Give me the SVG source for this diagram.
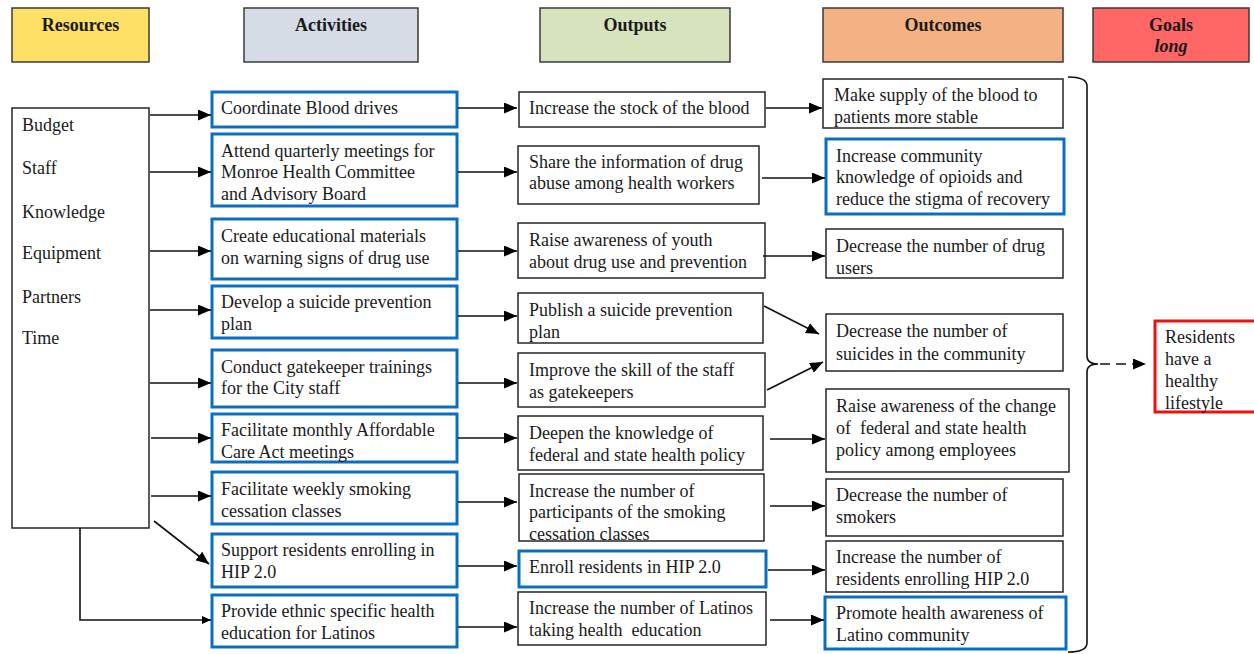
<svg xmlns="http://www.w3.org/2000/svg" width="1254" height="654" viewBox="0 0 1254 654">
  <style>
    text { font-family: "Liberation Serif", "Times New Roman", serif; font-size: 18px; fill: #1a1a1a; }
    .hd { font-weight: bold; text-anchor: middle; }
    .pre { white-space: pre; }
    .hdbox { stroke: #3a3a3a; stroke-width: 1.5; }
    .box { fill: #ffffff; stroke: #262626; stroke-width: 1.5; }
    .frame { fill: none; stroke: #262626; stroke-width: 1.5; }
    .blue { fill: #ffffff; stroke: #0a6fc2; stroke-width: 3; }
    .goal { fill: #ffffff; stroke: #f01010; stroke-width: 3; }
    .cn { fill: none; stroke: #111111; stroke-width: 1.6; }
  </style>
  <defs>
    <marker id="arr" markerUnits="userSpaceOnUse" markerWidth="13" markerHeight="11" refX="13" refY="5.5" orient="auto">
      <path d="M0,0 L13,5.5 L0,11 z" fill="#000"/>
    </marker>
    <marker id="arrSmall" markerUnits="userSpaceOnUse" markerWidth="9" markerHeight="8" refX="9" refY="4" orient="auto">
      <path d="M0,0 L9,4 L0,8 z" fill="#000"/>
    </marker>
  </defs>
  <rect width="1254" height="654" fill="#ffffff"/>

  <!-- column headers -->
  <g id="hdr-resources"><rect class="hdbox" x="12" y="8" width="137" height="54" fill="#ffe066"/><text class="hd" x="80.5" y="31">Resources</text></g>
  <g id="hdr-activities"><rect class="hdbox" x="244" y="8" width="174" height="54" fill="#d6dce5"/><text class="hd" x="331" y="31">Activities</text></g>
  <g id="hdr-outputs"><rect class="hdbox" x="540" y="8" width="190" height="54" fill="#d7e3bd"/><text class="hd" x="635" y="31">Outputs</text></g>
  <g id="hdr-outcomes"><rect class="hdbox" x="823" y="8" width="240" height="54" fill="#f4b183"/><text class="hd" x="943" y="31">Outcomes</text></g>
  <g id="hdr-goals"><rect class="hdbox" x="1093" y="8" width="156" height="54" fill="#ff6666"/><text class="hd" x="1171" y="31">Goals</text><text class="hd" x="1171" y="52" font-style="italic">long</text></g>

  <!-- resources -->
  <g id="resources">
    <rect class="box" x="12" y="108" width="137" height="420"/>
    <text x="22" y="131">Budget</text>
    <text x="22" y="174">Staff</text>
    <text x="22" y="218">Knowledge</text>
    <text x="22" y="259">Equipment</text>
    <text x="22" y="303">Partners</text>
    <text x="22" y="344">Time</text>
  </g>

  <!-- activities -->
  <g id="act-1"><rect class="blue" x="212" y="92" width="245" height="35"/><text x="221" y="114">Coordinate Blood drives</text></g>
  <g id="act-2"><rect class="blue" x="212" y="134" width="245" height="72"/><text x="221" y="157">Attend quarterly meetings for</text><text x="221" y="178">Monroe Health Committee</text><text x="221" y="200">and Advisory Board</text></g>
  <g id="act-3"><rect class="blue" x="212" y="219" width="245" height="60"/><text x="221" y="242">Create educational materials</text><text x="221" y="264">on warning signs of drug use</text></g>
  <g id="act-4"><rect class="blue" x="212" y="286" width="245" height="52"/><text x="221" y="308">Develop a suicide prevention</text><text x="221" y="330">plan</text></g>
  <g id="act-5"><rect class="blue" x="212" y="350" width="245" height="57"/><text x="221" y="373">Conduct gatekeeper trainings</text><text x="221" y="394">for the City staff</text></g>
  <g id="act-6"><rect class="blue" x="212" y="414" width="245" height="48"/><text x="221" y="436">Facilitate monthly Affordable</text><text x="221" y="458">Care Act meetings</text></g>
  <g id="act-7"><rect class="blue" x="212" y="472" width="245" height="52"/><text x="221" y="495">Facilitate weekly smoking</text><text x="221" y="517">cessation classes</text></g>
  <g id="act-8"><rect class="blue" x="212" y="534" width="245" height="53"/><text x="221" y="556">Support residents enrolling in</text><text x="221" y="578">HIP 2.0</text></g>
  <g id="act-9"><rect class="blue" x="212" y="595" width="245" height="52"/><text x="221" y="617">Provide ethnic specific health</text><text x="221" y="639">education for Latinos</text></g>

  <!-- outputs -->
  <g id="out-1"><rect class="box" x="519" y="92" width="246" height="35"/><text x="529" y="114">Increase the stock of the blood</text></g>
  <g id="out-2"><rect class="box" x="518" y="146" width="241" height="58"/><text x="529" y="168">Share the information of drug</text><text x="529" y="189">abuse among health workers</text></g>
  <g id="out-3"><rect class="box" x="518" y="223" width="247" height="55"/><text x="529" y="246">Raise awareness of youth</text><text x="529" y="268">about drug use and prevention</text></g>
  <g id="out-4"><rect class="box" x="518" y="293" width="245" height="50"/><text x="529" y="316">Publish a suicide prevention</text><text x="529" y="338">plan</text></g>
  <g id="out-5"><rect class="box" x="518" y="353" width="247" height="54"/><text x="529" y="376">Improve the skill of the staff</text><text x="529" y="398">as gatekeepers</text></g>
  <g id="out-6"><rect class="box" x="518" y="416" width="245" height="54"/><text x="529" y="439">Deepen the knowledge of</text><text x="529" y="461">federal and state health policy</text></g>
  <!-- the last line runs onto the lower border, so the frame is drawn over the text -->
  <g id="out-7"><rect x="519" y="474" width="245" height="67" fill="#ffffff"/><text x="529" y="497">Increase the number of</text><text x="529" y="518">participants of the smoking</text><text x="529" y="540">cessation classes</text><rect class="frame" x="519" y="474" width="245" height="67"/></g>
  <g id="out-8"><rect class="blue" x="519" y="551" width="247" height="36"/><text x="529" y="573">Enroll residents in HIP 2.0</text></g>
  <g id="out-9"><rect class="box" x="518" y="592" width="248" height="53"/><text x="529" y="614">Increase the number of Latinos</text><text class="pre" x="529" y="636">taking health  education</text></g>

  <!-- outcomes -->
  <g id="oc-1"><rect class="box" x="823" y="79" width="240" height="49"/><text x="834" y="101">Make supply of the blood to</text><text x="834" y="123">patients more stable</text></g>
  <g id="oc-2"><rect class="blue" x="826" y="139" width="238" height="75"/><text x="836" y="162">Increase community</text><text x="836" y="183">knowledge of opioids and</text><text x="836" y="205">reduce the stigma of recovery</text></g>
  <g id="oc-3"><rect class="box" x="826" y="229" width="237" height="49"/><text x="836" y="252">Decrease the number of drug</text><text x="836" y="274">users</text></g>
  <g id="oc-4"><rect class="box" x="826" y="314" width="237" height="57"/><text x="836" y="337">Decrease the number of</text><text x="836" y="360">suicides in the community</text></g>
  <g id="oc-5"><rect class="box" x="826" y="389" width="243" height="83"/><text x="836" y="412">Raise awareness of the change</text><text class="pre" x="836" y="434">of  federal and state health</text><text x="836" y="456">policy among employees</text></g>
  <g id="oc-6"><rect class="box" x="826" y="479" width="237" height="57"/><text x="836" y="501">Decrease the number of</text><text x="836" y="523">smokers</text></g>
  <g id="oc-7"><rect class="box" x="826" y="541" width="237" height="51"/><text x="836" y="563">Increase the number of</text><text x="836" y="585">residents enrolling HIP 2.0</text></g>
  <g id="oc-8"><rect class="blue" x="825" y="597" width="241" height="52"/><text x="836" y="619">Promote health awareness of</text><text x="836" y="641">Latino community</text></g>

  <!-- goal -->
  <g id="goal">
    <rect class="goal" x="1155" y="321" width="104" height="91"/>
    <text x="1165" y="343">Residents</text>
    <text x="1165" y="365">have a</text>
    <text x="1165" y="387">healthy</text>
    <text x="1165" y="409">lifestyle</text>
  </g>

  <!-- connectors -->
  <g id="connectors">
    <!-- resources to activities -->
    <line class="cn" x1="150" y1="115" x2="211" y2="115" marker-end="url(#arr)"/>
    <line class="cn" x1="150" y1="172" x2="211" y2="172" marker-end="url(#arr)"/>
    <line class="cn" x1="150" y1="251" x2="211" y2="251" marker-end="url(#arr)"/>
    <line class="cn" x1="150" y1="310" x2="211" y2="310" marker-end="url(#arr)"/>
    <line class="cn" x1="150" y1="383" x2="211" y2="383" marker-end="url(#arr)"/>
    <line class="cn" x1="151" y1="438" x2="211" y2="438" marker-end="url(#arr)"/>
    <line class="cn" x1="151" y1="496" x2="211" y2="496" marker-end="url(#arr)"/>
    <line class="cn" x1="154" y1="521" x2="209" y2="564" marker-end="url(#arr)"/>
    <path class="cn" d="M80,528 V620 H211" marker-end="url(#arrSmall)"/>

    <!-- activities to outputs -->
    <line class="cn" x1="458" y1="108" x2="517" y2="108" marker-end="url(#arr)"/>
    <line class="cn" x1="458" y1="172" x2="517" y2="172" marker-end="url(#arr)"/>
    <line class="cn" x1="458" y1="251" x2="517" y2="251" marker-end="url(#arr)"/>
    <line class="cn" x1="458" y1="316" x2="517" y2="316" marker-end="url(#arr)"/>
    <line class="cn" x1="458" y1="383" x2="517" y2="383" marker-end="url(#arr)"/>
    <line class="cn" x1="458" y1="438" x2="517" y2="438" marker-end="url(#arr)"/>
    <line class="cn" x1="458" y1="502" x2="517" y2="502" marker-end="url(#arr)"/>
    <line class="cn" x1="458" y1="566" x2="517" y2="566" marker-end="url(#arr)"/>
    <line class="cn" x1="458" y1="627" x2="517" y2="627" marker-end="url(#arr)"/>

    <!-- outputs to outcomes -->
    <line class="cn" x1="766" y1="108" x2="822" y2="108" marker-end="url(#arr)"/>
    <line class="cn" x1="762" y1="178" x2="825" y2="178" marker-end="url(#arr)"/>
    <line class="cn" x1="763" y1="256" x2="825" y2="256" marker-end="url(#arr)"/>
    <line class="cn" x1="764" y1="306" x2="819" y2="334" marker-end="url(#arr)"/>
    <line class="cn" x1="767" y1="390" x2="823" y2="362" marker-end="url(#arr)"/>
    <line class="cn" x1="770" y1="439" x2="825" y2="439" marker-end="url(#arr)"/>
    <line class="cn" x1="770" y1="506" x2="825" y2="506" marker-end="url(#arr)"/>
    <line class="cn" x1="768" y1="570" x2="825" y2="570" marker-end="url(#arr)"/>
    <line class="cn" x1="770" y1="620" x2="824" y2="620" marker-end="url(#arr)"/>

    <!-- brace gathering the outcomes -->
    <path class="cn" d="M1068,77 Q1087,77 1087,86 V356 Q1087,364 1098,364 Q1087,364 1087,372 V643 Q1087,652 1068,652"/>
    <line class="cn" x1="1100" y1="364" x2="1146" y2="364" stroke-dasharray="10,6" marker-end="url(#arr)"/>
  </g>
</svg>
